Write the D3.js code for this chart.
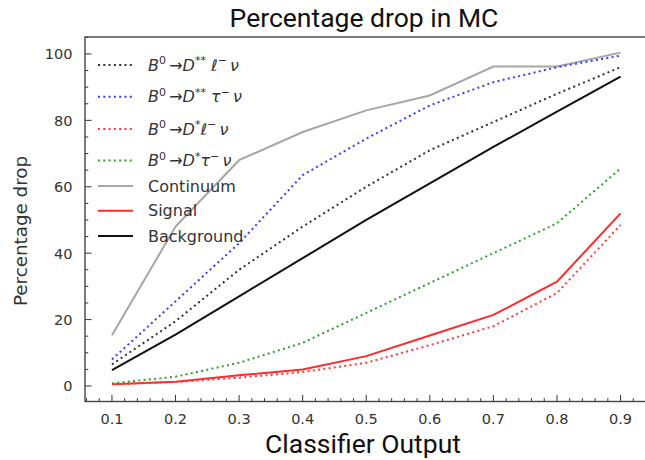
<!DOCTYPE html>
<html><head><meta charset="utf-8">
<script src="https://cdn.jsdelivr.net/npm/d3@7"></script>
<style>body{margin:0;background:#fff;} svg{display:block;}</style>
</head><body>
<svg id="c" width="645" height="460"></svg>
<script>
const xs = [0.1, 0.2, 0.3, 0.4, 0.5, 0.6, 0.7, 0.8, 0.9];
const dssLnu   = [6.5, 19.5, 35, 48, 60, 71, 79.5, 88, 96];
const dssTaunu = [8, 25.5, 43, 63.5, 74.5, 84.5, 91.5, 96, 99.5];
const dsLnu    = [0.5, 1.2, 2.5, 4.2, 7, 12.3, 18, 28, 48.5];
const dsTaunu  = [0.8, 2.8, 7, 13, 22, 31, 40, 49, 65.5];
const continuum = [15.3, 48, 68, 76.5, 83, 87.5, 96.2, 96.2, 100.4];
const signal   = [0.5, 1.3, 3.2, 5, 9, 15.2, 21.4, 31.4, 52];
const background = [4.8, 15.5, 27, 38.5, 50, 61, 72, 82.6, 93.2];
const xTicks = [0.1, 0.2, 0.3, 0.4, 0.5, 0.6, 0.7, 0.8, 0.9];
const yTicks = [0, 20, 40, 60, 80, 100];

const TS = "\u2009";
const series = [
  {key:"dssLnu", vals:dssLnu, color:"#333333", dotted:true, label:[["B","i"],["0","sup"],[TS+"\u2192",""],["D","i"],["**","sup"],[" ",""],["\u2113","i"],["\u2212","sup"],[TS,""],["\u03bd","i"]]},
  {key:"dssTaunu", vals:dssTaunu, color:"#3a3aff", dotted:true, label:[["B","i"],["0","sup"],[TS+"\u2192",""],["D","i"],["**","sup"],[" ",""],["\u03c4","i"],["\u2212","sup"],[TS,""],["\u03bd","i"]]},
  {key:"dsLnu", vals:dsLnu, color:"#ff3a3a", dotted:true, label:[["B","i"],["0","sup"],[TS+"\u2192",""],["D","i"],["*","sup"],["\u2113","i"],["\u2212","sup"],[TS,""],["\u03bd","i"]]},
  {key:"dsTaunu", vals:dsTaunu, color:"#2ca02c", dotted:true, label:[["B","i"],["0","sup"],[TS+"\u2192",""],["D","i"],["*","sup"],["\u03c4","i"],["\u2212","sup"],[TS,""],["\u03bd","i"]]},
  {key:"continuum", vals:continuum, color:"#a6a6a6", dotted:false, label:"Continuum"},
  {key:"signal", vals:signal, color:"#ff2a2a", dotted:false, label:"Signal"},
  {key:"background", vals:background, color:"#111111", dotted:false, label:"Background"}
];

const svg = d3.select("#c");
const L = 85, R = 647.5, T = 37, B = 401.5;
const x = d3.scaleLinear().domain([0.0576, 0.9424]).range([L, R]);
const y = d3.scaleLinear().domain([-4.67, 105.1]).range([B, T]);

const plot = svg.append("g");
const line = d3.line().x((d,i)=>x(xs[i])).y(d=>y(d));
const order = ["continuum","background","signal","dssLnu","dssTaunu","dsLnu","dsTaunu"];
order.forEach(k=>{
  const s = series.find(z=>z.key===k);
  plot.append("path").datum(s.vals).attr("d", line)
    .attr("fill","none").attr("stroke", s.color)
    .attr("stroke-width", 2)
    .attr("stroke-dasharray", s.dotted ? "2,3.3" : null);
});

// axes (ticks inward)
const minorX = d3.range(0.06, 0.941, 0.02).filter(v=>!xTicks.some(t=>Math.abs(t-v)<1e-6));
const minorY = d3.range(0, 106, 5).filter(v=>!yTicks.includes(v));
const ax = svg.append("g");
ax.selectAll(".xmaj").data(xTicks).join("line")
  .attr("x1",d=>x(d)).attr("x2",d=>x(d)).attr("y1",B).attr("y2",B-6.5)
  .attr("stroke","#333").attr("stroke-width",1);
ax.selectAll(".xmin").data(minorX).join("line")
  .attr("x1",d=>x(d)).attr("x2",d=>x(d)).attr("y1",B).attr("y2",B-3.3)
  .attr("stroke","#333").attr("stroke-width",1);
ax.selectAll(".ymaj").data(yTicks).join("line")
  .attr("y1",d=>y(d)).attr("y2",d=>y(d)).attr("x1",L).attr("x2",L+6.5)
  .attr("stroke","#333").attr("stroke-width",1);
ax.selectAll(".ymin").data(minorY).join("line")
  .attr("y1",d=>y(d)).attr("y2",d=>y(d)).attr("x1",L).attr("x2",L+3.3)
  .attr("stroke","#333").attr("stroke-width",1);
ax.selectAll(".xl").data(xTicks).join("text")
  .attr("x",d=>x(d)).attr("y",B+22.5).attr("text-anchor","middle")
  .attr("font-family","DejaVu Sans").attr("font-size",14.5).attr("fill","#333")
  .text(d=>d3.format(".1f")(d));
ax.selectAll(".yl").data(yTicks).join("text")
  .attr("x",L-12.5).attr("y",d=>y(d)+5.5).attr("text-anchor","end")
  .attr("font-family","DejaVu Sans").attr("font-size",14.5).attr("fill","#333")
  .text(d=>d);

// frame
svg.append("rect").attr("x",L).attr("y",T).attr("width",R-L).attr("height",B-T)
  .attr("fill","none").attr("stroke","#444").attr("stroke-width",1.4);

// titles
svg.append("text").attr("x",364).attr("y",27).attr("text-anchor","middle")
  .attr("font-family","Roboto").attr("font-size",26.5).attr("fill","#111")
  .text("Percentage drop in MC");
svg.append("text").attr("x",363).attr("y",453).attr("text-anchor","middle")
  .attr("font-family","Roboto").attr("font-size",26.5).attr("fill","#111")
  .text("Classifier Output");
svg.append("text").attr("transform","translate(27,231) rotate(-90)").attr("text-anchor","middle")
  .attr("font-family","DejaVu Sans").attr("font-size",18.3).attr("fill","#333")
  .text("Percentage drop");

// legend
const rowY = [65, 96.7, 129, 160.5, 186, 210.7, 236];
const lg = svg.append("g");
series.forEach((s,i)=>{
  const yy = rowY[i];
  lg.append("line").attr("x1",98).attr("x2",133).attr("y1",yy).attr("y2",yy)
    .attr("stroke",s.color).attr("stroke-width",2)
    .attr("stroke-dasharray", s.dotted ? "2,3.3" : null);
  const base = yy + 5.5;
  const t = lg.append("text").attr("x",148).attr("y",base)
    .attr("font-family","DejaVu Sans").attr("font-size",16).attr("fill","#333")
    .attr("xml:space","preserve").style("white-space","pre");
  if (typeof s.label === "string") { t.text(s.label); }
  else {
    s.label.forEach(([txt,st])=>{
      const sp = t.append("tspan").text(txt);
      if (st==="i") sp.attr("font-style","italic").attr("y", base);
      else if (st==="sup") sp.attr("font-size",11).attr("y", base-6.5);
      else sp.attr("y", base);
    });
  }
});
</script>
</body></html>
